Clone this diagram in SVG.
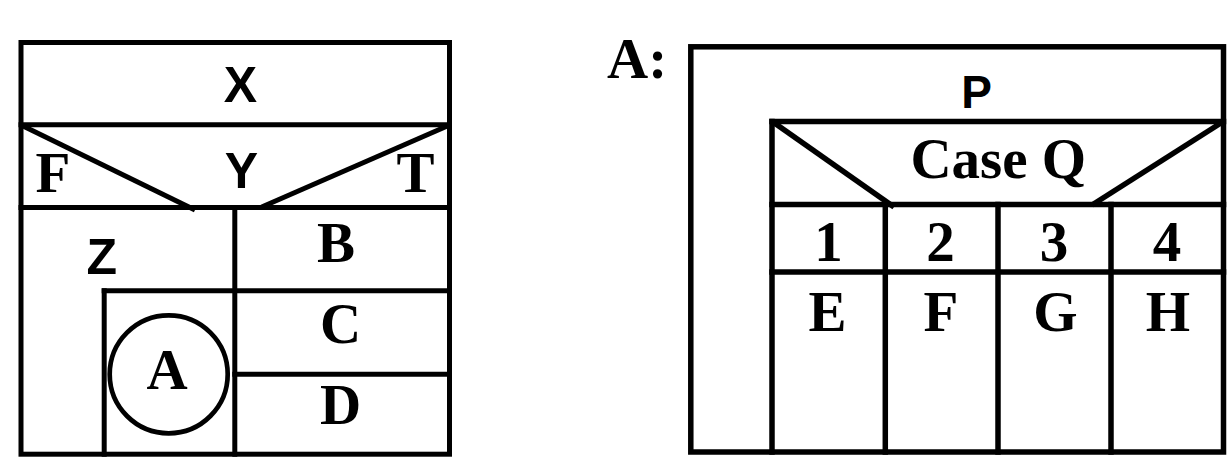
<svg xmlns="http://www.w3.org/2000/svg" width="1227" height="474" viewBox="0 0 1227 474">
<style>
.ln{fill:none;stroke:#000;stroke-width:5;stroke-linecap:square;stroke-linejoin:miter}
.dg{fill:none;stroke:#000;stroke-width:5;stroke-linecap:butt}
.rl{fill:none;stroke:#000;stroke-width:5.5;stroke-linecap:square;stroke-linejoin:miter}
.rdg{fill:none;stroke:#000;stroke-width:5.5;stroke-linecap:butt}
.sans{font-family:"Liberation Sans",Arial,sans-serif;font-weight:bold;text-anchor:middle;fill:#000}
.serif{font-family:"Liberation Serif","Times New Roman",serif;font-weight:bold;text-anchor:middle;fill:#000}
</style>
<rect width="1227" height="474" fill="#fff"/>

<g id="left-chart">
  <g id="frame-left"><rect class="ln" x="21" y="42.5" width="428.5" height="411.7"/></g>
  <g id="node-X">
    <line class="ln" x1="21" y1="124.8" x2="449.5" y2="124.8"/>
    <text class="sans" x="240.5" y="101.5" font-size="50">X</text>
  </g>
  <g id="node-Y">
    <line class="ln" x1="21" y1="207.5" x2="449.5" y2="207.5"/>
    <text class="sans" x="241.5" y="188.3" font-size="50">Y</text>
    <text class="serif" x="53" y="191.7" font-size="57">F</text>
    <text class="serif" x="415.5" y="192" font-size="57">T</text>
  </g>
  <g id="node-Z">
    <line class="ln" x1="234.8" y1="207.5" x2="234.8" y2="454.2"/>
    <text class="sans" x="101.7" y="274" font-size="50">Z</text>
  </g>
  <g id="node-B">
    <line class="ln" x1="104.2" y1="290.8" x2="449.5" y2="290.8"/>
    <text class="serif" x="336" y="261.7" font-size="57">B</text>
  </g>
  <g id="node-A-call">
    <line class="ln" x1="104.2" y1="290.8" x2="104.2" y2="454.2"/>
    <circle cx="168.7" cy="374.3" r="59" fill="none" stroke="#000" stroke-width="4.7"/>
    <text class="serif" x="167" y="389" font-size="57">A</text>
  </g>
  <g id="node-C">
    <line class="ln" x1="234.8" y1="374.2" x2="449.5" y2="374.2"/>
    <text class="serif" x="340.5" y="343" font-size="57">C</text>
  </g>
  <g id="node-D">
    <text class="serif" x="340.5" y="424" font-size="57">D</text>
  </g>
</g>

<g id="right-chart">
  <text id="label-A" class="serif" x="607" y="78.3" font-size="57" style="text-anchor:start">A:</text>
  <g id="node-P">
    <rect class="rl" x="690.8" y="46.8" width="532.7" height="405.2"/>
    <text class="sans" x="976.7" y="108.3" font-size="46">P</text>
  </g>
  <g id="node-CaseQ">
    <line class="rl" x1="772" y1="121.5" x2="1223.5" y2="121.5"/>
    <line class="rl" x1="772" y1="121.5" x2="772" y2="452"/>
    <line class="rl" x1="772" y1="204.5" x2="1223.5" y2="204.5"/>
    <text class="serif" x="998.3" y="178.3" font-size="57">Case Q</text>
  </g>
  <g id="node-case1">
    <text class="serif" x="828.5" y="261" font-size="57">1</text>
    <text class="serif" x="827.5" y="331" font-size="57">E</text>
  </g>
  <g id="node-case2">
    <line class="rl" x1="885.3" y1="204.5" x2="885.3" y2="452"/>
    <text class="serif" x="940.5" y="261" font-size="57">2</text>
    <text class="serif" x="941" y="331" font-size="57">F</text>
  </g>
  <g id="node-case3">
    <line class="rl" x1="998" y1="204.5" x2="998" y2="452"/>
    <text class="serif" x="1054" y="261" font-size="57">3</text>
    <text class="serif" x="1055.5" y="331" font-size="57">G</text>
  </g>
  <g id="node-case4">
    <line class="rl" x1="1111" y1="204.5" x2="1111" y2="452"/>
    <text class="serif" x="1167" y="261" font-size="57">4</text>
    <text class="serif" x="1168" y="331" font-size="57">H</text>
  </g>
  <line class="rl" x1="772" y1="272" x2="1223.5" y2="272"/>
</g>

<g id="connectors">
  <line class="dg" x1="22" y1="125.5" x2="195" y2="210"/>
  <line class="dg" x1="448.5" y1="125.5" x2="261.7" y2="207"/>
  <line class="rdg" x1="773" y1="122" x2="894" y2="207"/>
  <line class="rdg" x1="1222.5" y1="122" x2="1092" y2="205"/>
</g>
</svg>
